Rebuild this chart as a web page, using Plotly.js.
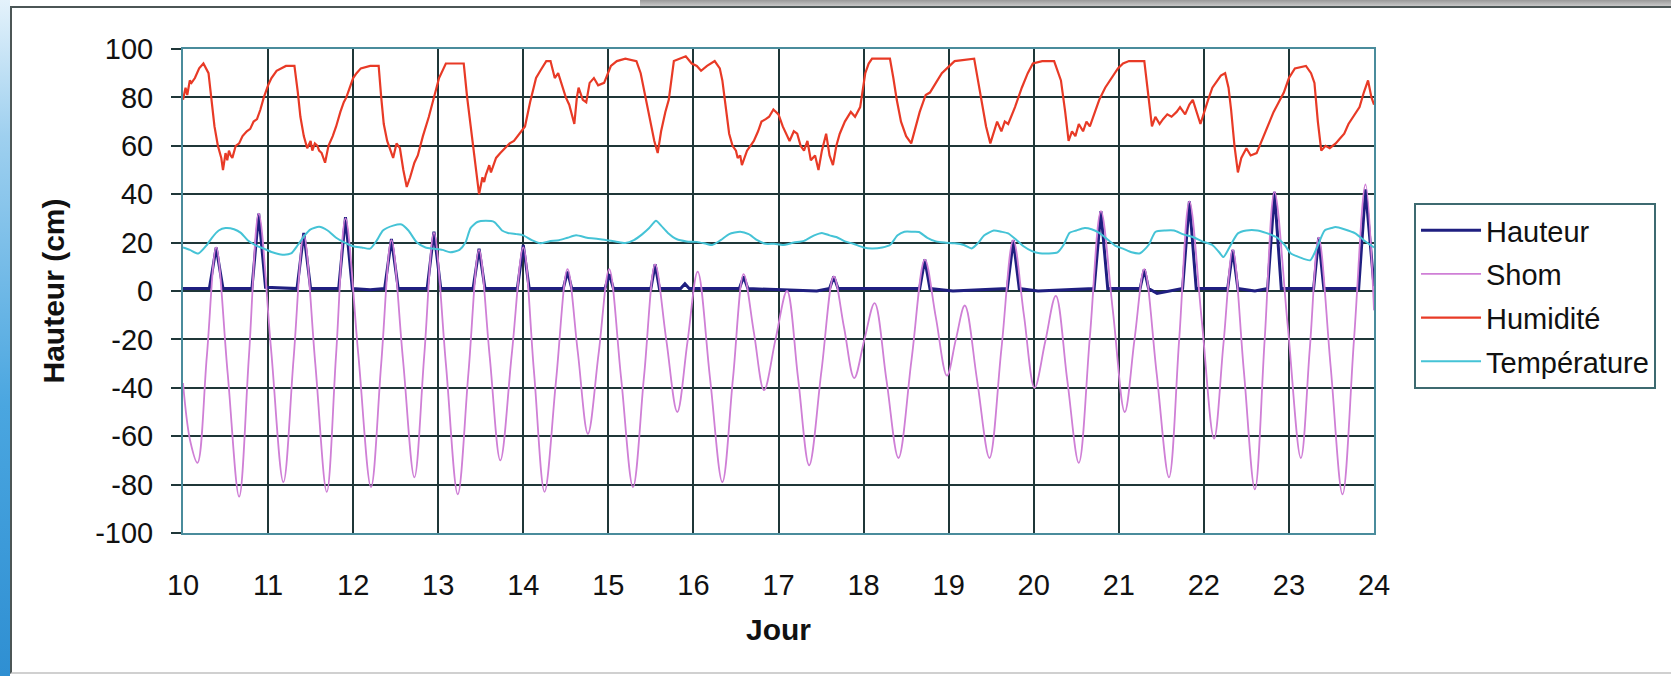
<!DOCTYPE html>
<html>
<head>
<meta charset="utf-8">
<script src="https://cdn.plot.ly/plotly-3.0.1.min.js"></script>
<style>
  html, body { margin: 0; padding: 0; background: #ffffff; }
  #wrap { position: relative; width: 1671px; height: 676px; overflow: hidden; }
  #strip { position: absolute; left: 0; top: 0; width: 10px; height: 676px;
           background: linear-gradient(to bottom, #e4f2fb 0%, #9fd0ef 20%, #4aa6e0 60%, #2f8fd2 100%); }
  #topbar { position: absolute; left: 640px; top: 0; width: 1031px; height: 6px;
            background: linear-gradient(to bottom, #9a9a9a, #c8c8c8); }
  #frame { position: absolute; left: 10px; top: 6px; width: 1661px; height: 664px;
           border-left: 2px solid #4c5656; border-top: 2px solid #4c5656; border-bottom: 2px solid #d0d0d0; }
  #chart { position: absolute; left: 0; top: 0; width: 1671px; height: 676px; }
</style>
</head>
<body>
<div id="wrap">
  <div id="strip"></div>
  <div id="topbar"></div>
  <div id="frame"></div>
  <div id="chart"></div>
</div>
<script>
// ---- Data ----
const xTicks = [10, 11, 12, 13, 14, 15, 16, 17, 18, 19, 20, 21, 22, 23, 24];
const yTicks = [-100, -80, -60, -40, -20, 0, 20, 40, 60, 80, 100];

const hauteurJour = [10.00, 10.31, 10.39, 10.47, 10.81, 10.89, 10.97, 11.34, 11.42, 11.50, 11.83, 11.91, 11.99, 12.20, 12.37, 12.45, 12.53, 12.87, 12.95, 13.03,
  13.41, 13.48, 13.55, 13.93, 14.00, 14.07, 14.47, 14.52, 14.57, 14.96, 15.01, 15.06, 15.50, 15.55, 15.60, 15.85, 15.90, 15.95,
  16.54, 16.59, 16.64, 17.45, 17.60, 17.65, 17.70, 18.66, 18.72, 18.78, 19.05, 19.69, 19.76, 19.83, 20.05, 20.71, 20.79, 20.87,
  21.25, 21.30, 21.35, 21.45, 21.75, 21.83, 21.91, 22.28, 22.34, 22.40, 22.60, 22.75, 22.83, 22.91, 23.29, 23.35, 23.41, 23.82, 23.90, 24.00];
const hauteurVal = [1, 1, 18, 1, 1, 32, 1.5, 1, 24, 1, 1, 30.5, 1, 0.5, 1, 21.5, 1, 1, 24.5, 1,
  1, 17.5, 1, 1, 19, 1, 1, 8, 1, 1, 7, 1, 1, 11, 1, 1, 3, 1,
  1, 6, 1, 0, 1, 6, 1, 1, 13, 1, 0, 1, 21, 1, 0, 1, 33, 1,
  1, 9, 1, -1, 1, 37, 1, 1, 17, 1, 0, 1, 41, 1, 1, 22, 1, 1, 42, 2];

const shomJour = [10.00, 10.085, 10.17, 10.28, 10.39, 10.525, 10.66, 10.775, 10.89, 11.035, 11.18, 11.30, 11.42, 11.555, 11.69, 11.80, 11.91, 12.06, 12.21, 12.33,
  12.45, 12.585, 12.72, 12.835, 12.95, 13.09, 13.23, 13.355, 13.48, 13.605, 13.73, 13.865, 14.00, 14.125, 14.25, 14.385, 14.52, 14.64, 14.76, 14.885,
  15.01, 15.15, 15.29, 15.42, 15.55, 15.68, 15.81, 15.93, 16.05, 16.195, 16.34, 16.465, 16.59, 16.71, 16.83, 16.965, 17.10, 17.23, 17.36, 17.505,
  17.65, 17.77, 17.89, 18.01, 18.13, 18.27, 18.41, 18.565, 18.72, 18.85, 18.98, 19.085, 19.19, 19.335, 19.48, 19.62, 19.76, 19.885, 20.01, 20.135,
  20.26, 20.395, 20.53, 20.66, 20.79, 20.93, 21.07, 21.185, 21.30, 21.445, 21.59, 21.71, 21.83, 21.975, 22.12, 22.23, 22.34, 22.47, 22.60, 22.715,
  22.83, 22.985, 23.14, 23.245, 23.35, 23.49, 23.63, 23.765, 23.90, 24.00];
const shomVal = [-38, -62, -71, -27, 18, -34, -85, -27, 32, -24, -79, -28, 23, -30, -83, -26, 30, -26, -81, -30,
  21, -28, -77, -27, 24, -30, -84, -34, 17, -27, -70, -26, 18, -33, -83, -37, 9, -25, -59, -26,
  9, -36, -81, -35, 11, -20, -50, -21, 8, -36, -79, -36, 7, -17, -41, -20, 0, -36, -72, -33,
  6, -15, -36, -20, -5, -37, -69, -28, 13, -11, -35, -20, -6, -37, -69, -24, 21, -10, -40, -21,
  -2, -37, -71, -19, 33, -8, -50, -20, 9, -34, -77, -20, 37, -12, -61, -22, 17, -33, -82, -20,
  41, -14, -69, -24, 22, -31, -84, -20, 44, -8];

const humiditeJour = [10.00, 10.03, 10.05, 10.08, 10.10, 10.14, 10.19, 10.24, 10.30, 10.34, 10.37, 10.41, 10.43, 10.45, 10.47, 10.50, 10.52, 10.54, 10.56, 10.58, 10.62, 10.66, 10.70, 10.75, 10.79,
  10.83, 10.87, 10.91, 10.95, 11.00, 11.04, 11.10, 11.21, 11.31, 11.35, 11.38, 11.42, 11.46, 11.50, 11.52, 11.55, 11.58, 11.60, 11.63, 11.67, 11.71, 11.76,
  11.80, 11.85, 11.89, 11.92, 11.96, 12.00, 12.04, 12.09, 12.20, 12.30, 12.33, 12.36, 12.40, 12.44, 12.47, 12.51, 12.55, 12.59, 12.63, 12.67,
  12.72, 12.76, 12.82, 12.89, 12.95, 13.01, 13.09, 13.30, 13.34, 13.39, 13.44, 13.48, 13.52, 13.54, 13.56, 13.60, 13.62, 13.64, 13.68, 13.73, 13.78, 13.84,
  13.89, 13.95, 14.02, 14.08, 14.15, 14.20, 14.27, 14.32, 14.37, 14.41, 14.46, 14.50, 14.54, 14.57, 14.60, 14.63, 14.65, 14.70, 14.74, 14.78,
  14.83, 14.88, 14.95, 15.03, 15.10, 15.20, 15.33, 15.38, 15.42, 15.48, 15.54, 15.58, 15.62, 15.67, 15.71, 15.77, 15.91, 15.98, 16.04, 16.09,
  16.16, 16.25, 16.31, 16.34, 16.38, 16.42, 16.46, 16.50, 16.52, 16.55, 16.57, 16.59, 16.63, 16.67, 16.71, 16.76, 16.80, 16.85, 16.89, 16.94, 17.00, 17.05,
  17.10, 17.13, 17.18, 17.22, 17.26, 17.30, 17.34, 17.38, 17.43, 17.47, 17.51, 17.56, 17.60, 17.64, 17.68, 17.72, 17.78, 17.85, 17.90, 17.96,
  18.02, 18.06, 18.10, 18.31, 18.35, 18.39, 18.44, 18.50, 18.56, 18.61, 18.66, 18.73, 18.78, 18.85, 18.92, 18.98, 19.07, 19.30, 19.34, 19.38,
  19.44, 19.49, 19.53, 19.57, 19.62, 19.66, 19.70, 19.78, 19.86, 19.93, 19.99, 20.10, 20.24, 20.32, 20.37, 20.41, 20.45, 20.49, 20.53, 20.58,
  20.62, 20.66, 20.72, 20.77, 20.84, 20.92, 20.99, 21.05, 21.12, 21.30, 21.35, 21.39, 21.43, 21.48, 21.52, 21.57, 21.62, 21.68, 21.72, 21.78,
  21.83, 21.87, 21.96, 22.01, 22.05, 22.10, 22.14, 22.20, 22.25, 22.29, 22.32, 22.36, 22.40, 22.44, 22.50, 22.55, 22.62, 22.68, 22.75, 22.82,
  22.88, 22.94, 23.00, 23.07, 23.20, 23.26, 23.30, 23.34, 23.38, 23.43, 23.48, 23.55, 23.60, 23.65, 23.70, 23.76, 23.83, 23.88, 23.93, 23.97, 24.00];
const humiditeVal = [79, 84, 81, 87, 86, 88, 92, 94, 90, 78, 68, 60, 57, 55, 50, 57, 54, 58, 56, 55, 60, 61, 64, 66, 67,
  70, 71, 75, 80, 85, 88, 91, 93, 93, 82, 72, 64, 59, 62, 58, 61, 60, 58, 57, 53, 60, 64,
  68, 74, 78, 80, 84, 88, 90, 92, 93, 93, 80, 69, 62, 58, 55, 61, 59, 50, 43, 47,
  53, 56, 64, 72, 80, 88, 94, 94, 80, 65, 50, 40, 47, 45, 48, 52, 49, 51, 55, 57, 59, 61,
  62, 65, 68, 78, 88, 91, 95, 95, 88, 90, 84, 80, 77, 73, 69, 80, 84, 79, 78, 86,
  88, 85, 86, 93, 95, 96, 95, 90, 83, 72, 62, 57, 66, 74, 79, 95, 97, 94, 93, 91,
  93, 95, 92, 87, 75, 65, 60, 58, 55, 56, 52, 54, 58, 60, 62, 66, 70, 71, 72, 75, 73, 68,
  64, 62, 66, 65, 60, 58, 62, 54, 56, 50, 58, 65, 56, 52, 60, 65, 70, 74, 72, 76,
  90, 94, 96, 96, 88, 79, 70, 64, 61, 68, 74, 81, 82, 86, 90, 92, 95, 96, 88, 79,
  68, 61, 66, 70, 66, 70, 69, 76, 84, 90, 94, 95, 95, 87, 74, 62, 66, 64, 69, 66,
  70, 68, 74, 79, 84, 88, 92, 94, 95, 95, 80, 68, 72, 69, 71, 73, 72, 74, 76, 73,
  77, 79, 69, 75, 79, 84, 86, 89, 90, 84, 75, 60, 49, 55, 59, 56, 57, 62, 68, 74,
  78, 82, 88, 92, 93, 90, 86, 70, 58, 60, 59, 61, 63, 65, 69, 72, 76, 82, 87, 80, 77];

const temperatureJour = [10.00, 10.08, 10.18, 10.28, 10.34, 10.42, 10.50, 10.60, 10.68, 10.76, 10.85, 10.95, 11.05, 11.17, 11.27, 11.35, 11.43, 11.50, 11.60, 11.70,
  11.80, 11.90, 12.00, 12.10, 12.20, 12.28, 12.35, 12.47, 12.57, 12.65, 12.75, 12.85, 12.95, 13.05, 13.14, 13.25, 13.32, 13.38, 13.46, 13.56,
  13.66, 13.75, 13.82, 13.92, 14.00, 14.10, 14.20, 14.30, 14.42, 14.52, 14.62, 14.75, 14.88, 14.98, 15.08, 15.20, 15.30, 15.40, 15.48, 15.56,
  15.62, 15.70, 15.80, 15.92, 16.04, 16.15, 16.22, 16.32, 16.42, 16.55, 16.65, 16.75, 16.85, 16.95, 17.05, 17.18, 17.30, 17.42, 17.51, 17.60,
  17.68, 17.78, 17.88, 18.00, 18.10, 18.22, 18.31, 18.40, 18.48, 18.58, 18.65, 18.75, 18.85, 18.95, 19.07, 19.18, 19.27, 19.35, 19.42, 19.53,
  19.62, 19.70, 19.80, 19.88, 19.98, 20.07, 20.18, 20.28, 20.35, 20.42, 20.50, 20.60, 20.68, 20.77, 20.88, 20.97, 21.05, 21.15, 21.25, 21.35,
  21.43, 21.55, 21.65, 21.75, 21.87, 21.98, 22.10, 22.18, 22.23, 22.30, 22.40, 22.50, 22.63, 22.73, 22.85, 22.95, 23.02, 23.12, 23.25, 23.33,
  23.42, 23.50, 23.55, 23.65, 23.78, 23.88, 24.00];
const temperatureVal = [18, 17, 15.5, 19, 22, 25, 26, 25.5, 24, 21, 19, 17.5, 16, 15, 15.5, 19, 23, 25.5, 26.5, 25,
  22, 20, 18.5, 18, 17.5, 21, 25, 27, 27.5, 25, 20, 18, 17.5, 17, 16, 17, 20, 26, 28.5, 29,
  28.5, 25, 24, 23.5, 23, 21, 19.7, 20.5, 21, 22, 23, 22, 21.5, 21, 20.5, 19.8, 21, 23.5, 26, 29,
  27, 24, 21.5, 20.5, 20.3, 19.5, 19, 21, 23.5, 24.5, 23.5, 21, 19.5, 19.5, 19, 20, 20.7, 23, 24, 23,
  22.3, 20.5, 19.5, 18, 17.6, 18, 19, 23, 24.5, 24.5, 24.4, 22, 20.5, 20, 19.7, 19, 17.6, 20, 23, 25,
  24.5, 23.8, 21, 18.5, 16.5, 15.6, 15.5, 16, 19, 24, 25, 26, 25.5, 24, 21, 18.5, 17.5, 16, 15.6, 19,
  24.4, 25, 25, 23.5, 22.3, 20.5, 19, 16, 14, 18, 23.8, 25, 25, 24, 22.3, 19, 15.6, 14, 12.7, 18,
  25, 26, 26.4, 25.5, 23.8, 21, 18];

// ---- Chart ----
const FONT = 'Liberation Sans, Arial, sans-serif';

const traces = [
  { name: 'Hauteur', x: hauteurJour, y: hauteurVal, type: 'scatter', mode: 'lines',
    line: { color: '#1f1f80', width: 3 }, legendgroup: 'g1' },
  { name: 'Shom', x: shomJour, y: shomVal, type: 'scatter', mode: 'lines',
    line: { color: '#cf7fd6', width: 1.8, shape: 'spline', smoothing: 1 }, legendgroup: 'g2' },
  { name: 'Humidité', x: humiditeJour, y: humiditeVal, type: 'scatter', mode: 'lines',
    line: { color: '#e83a26', width: 2.2 }, legendgroup: 'g3' },
  { name: 'Température', x: temperatureJour, y: temperatureVal, type: 'scatter', mode: 'lines',
    line: { color: '#45c3d6', width: 2, shape: 'spline', smoothing: 0.6 }, legendgroup: 'g4' }
];

const layout = {
  width: 1671, height: 676,
  margin: { l: 183, r: 297, t: 49, b: 143 },
  paper_bgcolor: 'rgba(0,0,0,0)',
  plot_bgcolor: '#ffffff',
  font: { family: FONT, size: 29, color: '#111111' },
  showlegend: true,
  legend: {
    x: 1.0336, y: 0.682, xanchor: 'left', yanchor: 'top',
    bgcolor: '#ffffff', bordercolor: '#3d6a70', borderwidth: 2,
    font: { family: FONT, size: 29, color: '#111111' },
    tracegroupgap: 3, traceorder: 'grouped', itemwidth: 60
  },
  xaxis: {
    range: [10, 24], tickvals: xTicks, ticktext: xTicks.map(String),
    showgrid: true, gridcolor: '#1f3638', gridwidth: 2,
    showline: true, mirror: true, linecolor: '#4a8c9c', linewidth: 2,
    ticks: '', ticklabelstandoff: 25, zeroline: false,
    tickfont: { family: FONT, size: 29, color: '#111111' },
    title: { text: '<b>Jour</b>', font: { family: FONT, size: 30, color: '#111111' }, standoff: 19 }
  },
  yaxis: {
    range: [-100, 100], tickvals: yTicks, ticktext: yTicks.map(String),
    showgrid: true, gridcolor: '#1f3638', gridwidth: 2,
    showline: true, mirror: true, linecolor: '#4a8c9c', linewidth: 2,
    ticks: 'outside', ticklen: 10, tickwidth: 2, tickcolor: '#1f3638',
    ticklabelstandoff: 12, zeroline: false,
    tickfont: { family: FONT, size: 29, color: '#111111' },
    title: { text: '<b>Hauteur (cm)</b>', font: { family: FONT, size: 30, color: '#111111' }, standoff: 22 }
  }
};

Plotly.newPlot('chart', traces, layout, { displayModeBar: false, staticPlot: true });
</script>
</body>
</html>
